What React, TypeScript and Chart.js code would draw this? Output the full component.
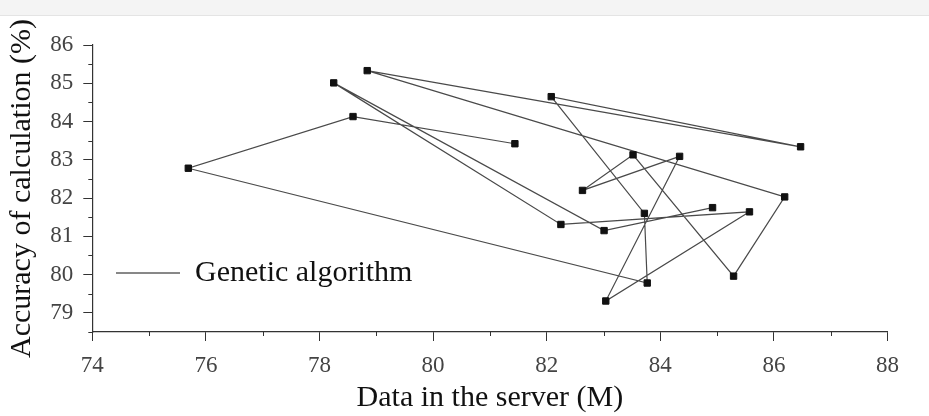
import React, { useEffect, useRef } from "react";
import { Chart, registerables } from "chart.js";

Chart.register(...registerables);

// Data (in the order the line connects the points)
const seriesName = "Genetic algorithm";
const dataServer = [81.44, 78.59, 75.69, 83.77, 83.72, 82.08, 86.47, 78.84, 86.19, 85.29, 83.52, 82.63, 84.34, 83.04, 85.57, 82.25, 78.25, 83.01, 84.92];
const accuracy = [83.42, 84.13, 82.78, 79.78, 81.6, 84.65, 83.34, 85.33, 82.03, 79.96, 83.13, 82.2, 83.09, 79.31, 81.64, 81.31, 85.01, 81.15, 81.75];

const xMajorTicks = [74, 76, 78, 80, 82, 84, 86, 88];
const xMinorTicks = [75, 77, 79, 81, 83, 85, 87];
const yMajorTicks = [79, 80, 81, 82, 83, 84, 85, 86];
const yMinorTicks = [78.5, 79.5, 80.5, 81.5, 82.5, 83.5, 84.5, 85.5];

const xTitle = "Data in the server (M)";
const yTitle = "Accuracy of calculation (%)";

const FONT = "'Liberation Serif', 'Times New Roman', serif";
const AXIS_COLOR = "#333";

export default function App() {
  const canvasRef = useRef<HTMLCanvasElement | null>(null);

  useEffect(() => {
    const canvas = canvasRef.current;
    if (!canvas) return;

    const points = dataServer.map((x, i) => ({ x, y: accuracy[i] }));

    const minorTicksPlugin = {
      id: "minorTicks",
      beforeDraw(chart: any) {
        const lg = chart.legend;
        if (lg) {
          lg.left = 106;
          lg.top = 248;
        }
      },
      afterDraw(chart: any) {
        const ctx = chart.ctx;
        const xs = chart.scales.x;
        const ys = chart.scales.y;
        ctx.save();
        ctx.strokeStyle = AXIS_COLOR;
        ctx.lineWidth = 1;
        ctx.beginPath();
        xMinorTicks.forEach((v) => {
          const px = Math.round(xs.getPixelForValue(v)) + 0.5;
          ctx.moveTo(px, ys.bottom);
          ctx.lineTo(px, ys.bottom + 4);
        });
        yMinorTicks.forEach((v) => {
          const py = Math.round(ys.getPixelForValue(v)) + 0.5;
          ctx.moveTo(xs.left, py);
          ctx.lineTo(xs.left - 4, py);
        });
        ctx.stroke();
        ctx.restore();
      },
    };

    const chart = new Chart(canvas, {
      type: "scatter",
      data: {
        datasets: [
          {
            label: seriesName,
            data: points,
            showLine: true,
            borderColor: "#4a4a4a",
            borderWidth: 1.2,
            backgroundColor: "#111",
            pointStyle: "rect",
            pointRadius: 4.5,
            pointBackgroundColor: "#111",
            pointBorderColor: "#111",
            pointBorderWidth: 1,
            tension: 0,
          },
        ],
      },
      options: {
        responsive: false,
        animation: false,
        layout: { padding: { top: 45, right: 41.5, left: 0, bottom: 0 } },
        plugins: {
          legend: {
            display: true,
            position: "chartArea",
            align: "start",
            labels: {
              usePointStyle: true,
              pointStyle: "line",
              pointStyleWidth: 64,
              color: "#111",
              font: { family: FONT, size: 30 },
              padding: 10,
            },
          },
          tooltip: { enabled: false },
        },
        scales: {
          x: {
            type: "linear",
            min: 74,
            max: 88,
            afterBuildTicks: (scale: any) => {
              scale.ticks = xMajorTicks.map((v) => ({ value: v }));
            },
            afterFit: (scale: any) => {
              scale.height = 84;
            },
            grid: {
              display: true,
              drawOnChartArea: false,
              drawTicks: true,
              tickLength: 9,
              tickColor: AXIS_COLOR,
              tickWidth: 1,
            },
            border: { display: true, color: AXIS_COLOR, width: 1.2 },
            ticks: {
              color: "#444",
              font: { family: FONT, size: 23 },
              padding: 11,
              maxRotation: 0,
              autoSkip: false,
            },
            title: {
              display: true,
              text: xTitle,
              color: "#111",
              font: { family: FONT, size: 30 },
              padding: { top: 0, bottom: 0 },
            },
          },
          y: {
            type: "linear",
            min: 78.5,
            max: 86,
            afterBuildTicks: (scale: any) => {
              scale.ticks = yMajorTicks.map((v) => ({ value: v }));
            },
            afterFit: (scale: any) => {
              scale.width = 92.3;
            },
            grid: {
              display: true,
              drawOnChartArea: false,
              drawTicks: true,
              tickLength: 9,
              tickColor: AXIS_COLOR,
              tickWidth: 1,
            },
            border: { display: true, color: AXIS_COLOR, width: 1.2 },
            ticks: {
              color: "#444",
              font: { family: FONT, size: 23 },
              padding: 10,
              autoSkip: false,
            },
            title: {
              display: true,
              text: yTitle,
              color: "#111",
              font: { family: FONT, size: 30 },
              padding: { top: 4, bottom: 0 },
            },
          },
        },
      },
      plugins: [minorTicksPlugin],
    } as any);

    return () => {
      chart.destroy();
    };
  }, []);

  return (
    <div
      style={{
        position: "fixed",
        left: 0,
        top: 0,
        width: 929,
        height: 416,
        background: "#fff",
        overflow: "hidden",
      }}
    >
      <canvas
        ref={canvasRef}
        width={929}
        height={416}
        style={{ position: "absolute", left: 0, top: 0, width: 929, height: 416 }}
      />
      <div
        style={{
          position: "absolute",
          left: 0,
          top: 0,
          width: 929,
          height: 15,
          background: "#f4f4f4",
          borderBottom: "1px solid #e4e4e4",
        }}
      />
    </div>
  );
}
